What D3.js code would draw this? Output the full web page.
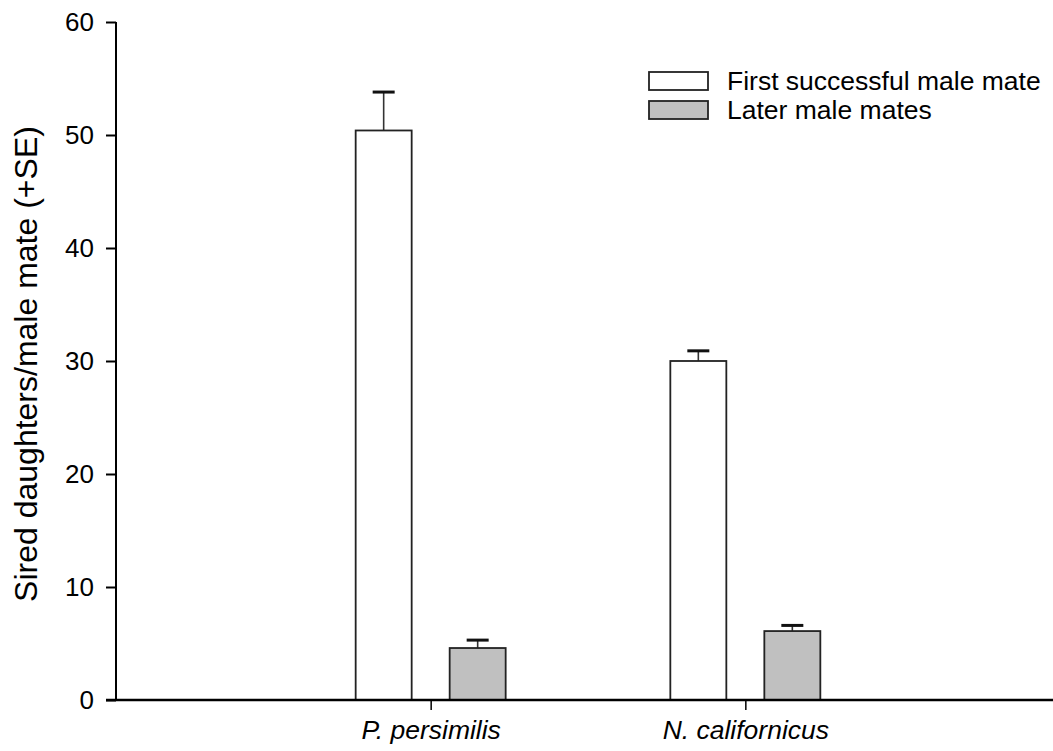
<!DOCTYPE html>
<html><head><meta charset="utf-8">
<script src="https://cdn.jsdelivr.net/npm/d3@7/dist/d3.min.js"></script>
<style>body{margin:0;background:#fff}svg{display:block}text{font-family:"Liberation Sans",Arial,sans-serif;fill:#000}</style>
</head><body>
<script>
const categories = ["P. persimilis", "N. californicus"];
const seriesNames = ["First successful male mate", "Later male mates"];
const firstMate = [50.4, 30.0];
const firstMateSE = [3.4, 0.9];
const laterMates = [4.6, 6.1];
const laterMatesSE = [0.7, 0.5];
const yTicks = [0, 10, 20, 30, 40, 50, 60];
const colors = ["#ffffff", "#c0c0c0"];

const W = 1053, H = 751;
const svg = d3.select("body").append("svg").attr("width", W).attr("height", H);
const x = d3.scalePoint().domain(categories).range([116, 1060]).padding(1);
const y = d3.scaleLinear().domain([0, 60]).range([700, 22]);

const series = [
  {name: seriesNames[0], vals: firstMate, se: firstMateSE, color: colors[0], off: -75},
  {name: seriesNames[1], vals: laterMates, se: laterMatesSE, color: colors[1], off: 19}
];
const bw = 56;

series.forEach(s => {
  const g = svg.append("g");
  categories.forEach((c, i) => {
    const x0 = x(c) + s.off;
    const v = s.vals[i], e = s.se[i];
    g.append("line").attr("x1", x0 + bw/2).attr("x2", x0 + bw/2)
      .attr("y1", y(v)).attr("y2", y(v + e)).attr("stroke", "#333").attr("stroke-width", 1.6);
    g.append("line").attr("x1", x0 + bw/2 - 11).attr("x2", x0 + bw/2 + 11)
      .attr("y1", y(v + e)).attr("y2", y(v + e)).attr("stroke", "#111").attr("stroke-width", 3);
    g.append("rect").attr("x", x0).attr("y", y(v)).attr("width", bw).attr("height", y(0) - y(v))
      .attr("fill", s.color).attr("stroke", "#222").attr("stroke-width", 1.8);
  });
});

// y axis
const ya = svg.append("g").attr("transform", "translate(116,0)")
  .call(d3.axisLeft(y).tickValues(yTicks).tickSize(10).tickPadding(12));
ya.select(".domain").attr("stroke", "#000").attr("stroke-width", 2).attr("d", "M0,22V700");
ya.selectAll(".tick line").attr("stroke", "#000").attr("stroke-width", 2);
ya.selectAll(".tick text").attr("font-size", 26).attr("font-family", "Liberation Sans, Arial, sans-serif").attr("fill", "#000");

// x axis
const xa = svg.append("g").attr("transform", "translate(0,700)")
  .call(d3.axisBottom(x).tickSize(10).tickPadding(10));
xa.select(".domain").attr("stroke", "#000").attr("stroke-width", 2.5).attr("d", "M106,0H1053");
xa.selectAll(".tick line").attr("stroke", "#000").attr("stroke-width", 1.5);
xa.selectAll(".tick text").attr("font-size", 26.5).attr("font-style", "italic")
  .attr("font-family", "Liberation Sans, Arial, sans-serif").attr("fill", "#000");

// y label
svg.append("text").attr("transform", "translate(37,364) rotate(-90)")
  .attr("text-anchor", "middle").attr("font-size", 32).text("Sired daughters/male mate (+SE)");

// legend
const lg = svg.append("g");
series.forEach((s, i) => {
  const yy = 72 + i * 29;
  lg.append("rect").attr("x", 649).attr("y", yy).attr("width", 59).attr("height", 18)
    .attr("fill", s.color).attr("stroke", "#222").attr("stroke-width", 1.8);
  lg.append("text").attr("x", 727).attr("y", yy + 18).attr("font-size", 26.5).text(s.name);
});
</script>
</body></html>
